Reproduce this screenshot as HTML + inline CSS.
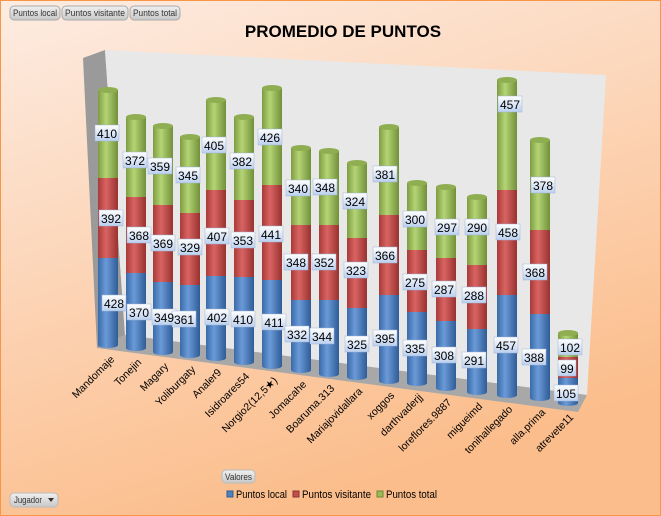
<!DOCTYPE html>
<html><head><meta charset="utf-8"><style>
body{margin:0}
svg{display:block;font-family:"Liberation Sans",sans-serif}
.l text{font-size:12px}
</style></head><body>
<svg width="661" height="516" viewBox="0 0 661 516" xmlns="http://www.w3.org/2000/svg">
<defs>
<linearGradient id="bg" x1="0" y1="0" x2="0.4" y2="1"><stop offset="0" stop-color="#fdece2"/><stop offset="1" stop-color="#fbbd8b"/></linearGradient>
<linearGradient id="B" x1="0" x2="1"><stop offset="0" stop-color="#3a6aa8"/><stop offset="0.4" stop-color="#6a9ad8"/><stop offset="1" stop-color="#2f5c96"/></linearGradient>
<linearGradient id="R" x1="0" x2="1"><stop offset="0" stop-color="#a83a38"/><stop offset="0.4" stop-color="#d96462"/><stop offset="1" stop-color="#983230"/></linearGradient>
<linearGradient id="G" x1="0" x2="1"><stop offset="0" stop-color="#7e9c42"/><stop offset="0.4" stop-color="#b4d474"/><stop offset="1" stop-color="#71903a"/></linearGradient>
<linearGradient id="lb" x1="0" y1="0" x2="0" y2="1"><stop offset="0" stop-color="#ffffff"/><stop offset="1" stop-color="#bcd0ee"/></linearGradient>
<linearGradient id="btn" x1="0" y1="0" x2="0" y2="1"><stop offset="0" stop-color="#f0f0f0"/><stop offset="1" stop-color="#c8c8c8"/></linearGradient>
</defs>
<rect x="0.5" y="0.5" width="660" height="515" fill="url(#bg)" stroke="#f79646"/>
<text x="343" y="37" font-size="17" font-weight="bold" text-anchor="middle" fill="#000">PROMEDIO DE PUNTOS</text>
<g font-size="9" fill="#333">
<rect x="10" y="6" width="50" height="14" rx="4" fill="url(#btn)" stroke="#aaa"/><text x="13" y="16" textLength="44" lengthAdjust="spacingAndGlyphs">Puntos local</text>
<rect x="62" y="6" width="66" height="14" rx="4" fill="url(#btn)" stroke="#aaa"/><text x="65" y="16" textLength="60" lengthAdjust="spacingAndGlyphs">Puntos visitante</text>
<rect x="130" y="6" width="50" height="14" rx="4" fill="url(#btn)" stroke="#aaa"/><text x="133" y="16" textLength="44" lengthAdjust="spacingAndGlyphs">Puntos total</text>
<rect x="222" y="470" width="33" height="13" rx="4" fill="url(#btn)" stroke="#bbb"/><text x="225" y="480" textLength="27" lengthAdjust="spacingAndGlyphs">Valores</text>
<rect x="10" y="493" width="48" height="14" rx="4" fill="url(#btn)" stroke="#bbb"/><text x="14" y="503" textLength="28" lengthAdjust="spacingAndGlyphs">Jugador</text><path d="M48 498h6l-3 4z" fill="#333"/>
</g>
<g font-size="11" fill="#000">
<rect x="227" y="491" width="6" height="6" fill="#4f81bd" stroke="#2f5c96"/><text x="236" y="498" textLength="51" lengthAdjust="spacingAndGlyphs">Puntos local</text>
<rect x="293" y="491" width="6" height="6" fill="#c0504d" stroke="#8a3432"/><text x="302" y="498" textLength="69" lengthAdjust="spacingAndGlyphs">Puntos visitante</text>
<rect x="377" y="491" width="6" height="6" fill="#9bbb59" stroke="#6e8a38"/><text x="386" y="498" textLength="51" lengthAdjust="spacingAndGlyphs">Puntos total</text>
</g>
<polygon points="83,58 105,50 125,335 97,348" fill="#9a9a9a"/>
<polygon points="105,50 606,75 587,395 125,335" fill="#e8e8e8"/>
<polygon points="97,348 125,335 587,395 578,412" fill="#a8a8a8"/>
<g>
<rect x="98" y="258" width="20" height="87" fill="url(#B)"/><ellipse cx="108" cy="345" rx="10" ry="3" fill="url(#B)"/><rect x="98" y="178" width="20" height="80" fill="url(#R)"/><rect x="98" y="90" width="20" height="88" fill="url(#G)"/><ellipse cx="108" cy="90" rx="10" ry="3" fill="#8fae52"/>
<rect x="126" y="273" width="20" height="75" fill="url(#B)"/><ellipse cx="136" cy="348" rx="10" ry="3" fill="url(#B)"/><rect x="126" y="197" width="20" height="76" fill="url(#R)"/><rect x="126" y="117" width="20" height="80" fill="url(#G)"/><ellipse cx="136" cy="117" rx="10" ry="3" fill="#8fae52"/>
<rect x="153" y="282" width="20" height="70" fill="url(#B)"/><ellipse cx="163" cy="352" rx="10" ry="3" fill="url(#B)"/><rect x="153" y="205" width="20" height="77" fill="url(#R)"/><rect x="153" y="126" width="20" height="79" fill="url(#G)"/><ellipse cx="163" cy="126" rx="10" ry="3" fill="#8fae52"/>
<rect x="180" y="285" width="20" height="70" fill="url(#B)"/><ellipse cx="190" cy="355" rx="10" ry="3" fill="url(#B)"/><rect x="180" y="213" width="20" height="72" fill="url(#R)"/><rect x="180" y="137" width="20" height="76" fill="url(#G)"/><ellipse cx="190" cy="137" rx="10" ry="3" fill="#8fae52"/>
<rect x="206" y="276" width="20" height="82" fill="url(#B)"/><ellipse cx="216" cy="358" rx="10" ry="3" fill="url(#B)"/><rect x="206" y="190" width="20" height="86" fill="url(#R)"/><rect x="206" y="100" width="20" height="90" fill="url(#G)"/><ellipse cx="216" cy="100" rx="10" ry="3" fill="#8fae52"/>
<rect x="234" y="277" width="20" height="85" fill="url(#B)"/><ellipse cx="244" cy="362" rx="10" ry="3" fill="url(#B)"/><rect x="234" y="200" width="20" height="77" fill="url(#R)"/><rect x="234" y="117" width="20" height="83" fill="url(#G)"/><ellipse cx="244" cy="117" rx="10" ry="3" fill="#8fae52"/>
<rect x="262" y="280" width="20" height="86" fill="url(#B)"/><ellipse cx="272" cy="366" rx="10" ry="3" fill="url(#B)"/><rect x="262" y="185" width="20" height="95" fill="url(#R)"/><rect x="262" y="88" width="20" height="97" fill="url(#G)"/><ellipse cx="272" cy="88" rx="10" ry="3" fill="#8fae52"/>
<rect x="291" y="300" width="20" height="70" fill="url(#B)"/><ellipse cx="301" cy="370" rx="10" ry="3" fill="url(#B)"/><rect x="291" y="225" width="20" height="75" fill="url(#R)"/><rect x="291" y="148" width="20" height="77" fill="url(#G)"/><ellipse cx="301" cy="148" rx="10" ry="3" fill="#8fae52"/>
<rect x="319" y="300" width="20" height="74" fill="url(#B)"/><ellipse cx="329" cy="374" rx="10" ry="3" fill="url(#B)"/><rect x="319" y="225" width="20" height="75" fill="url(#R)"/><rect x="319" y="151" width="20" height="74" fill="url(#G)"/><ellipse cx="329" cy="151" rx="10" ry="3" fill="#8fae52"/>
<rect x="347" y="308" width="20" height="69" fill="url(#B)"/><ellipse cx="357" cy="377" rx="10" ry="3" fill="url(#B)"/><rect x="347" y="238" width="20" height="70" fill="url(#R)"/><rect x="347" y="163" width="20" height="75" fill="url(#G)"/><ellipse cx="357" cy="163" rx="10" ry="3" fill="#8fae52"/>
<rect x="379" y="295" width="20" height="86" fill="url(#B)"/><ellipse cx="389" cy="381" rx="10" ry="3" fill="url(#B)"/><rect x="379" y="215" width="20" height="80" fill="url(#R)"/><rect x="379" y="127" width="20" height="88" fill="url(#G)"/><ellipse cx="389" cy="127" rx="10" ry="3" fill="#8fae52"/>
<rect x="407" y="312" width="20" height="71" fill="url(#B)"/><ellipse cx="417" cy="383" rx="10" ry="3" fill="url(#B)"/><rect x="407" y="250" width="20" height="62" fill="url(#R)"/><rect x="407" y="183" width="20" height="67" fill="url(#G)"/><ellipse cx="417" cy="183" rx="10" ry="3" fill="#8fae52"/>
<rect x="436" y="321" width="20" height="67" fill="url(#B)"/><ellipse cx="446" cy="388" rx="10" ry="3" fill="url(#B)"/><rect x="436" y="258" width="20" height="63" fill="url(#R)"/><rect x="436" y="187" width="20" height="71" fill="url(#G)"/><ellipse cx="446" cy="187" rx="10" ry="3" fill="#8fae52"/>
<rect x="467" y="329" width="20" height="63" fill="url(#B)"/><ellipse cx="477" cy="392" rx="10" ry="3" fill="url(#B)"/><rect x="467" y="265" width="20" height="64" fill="url(#R)"/><rect x="467" y="197" width="20" height="68" fill="url(#G)"/><ellipse cx="477" cy="197" rx="10" ry="3" fill="#8fae52"/>
<rect x="497" y="295" width="20" height="100" fill="url(#B)"/><ellipse cx="507" cy="395" rx="10" ry="3" fill="url(#B)"/><rect x="497" y="190" width="20" height="105" fill="url(#R)"/><rect x="497" y="80" width="20" height="110" fill="url(#G)"/><ellipse cx="507" cy="80" rx="10" ry="3" fill="#8fae52"/>
<rect x="530" y="314" width="20" height="84" fill="url(#B)"/><ellipse cx="540" cy="398" rx="10" ry="3" fill="url(#B)"/><rect x="530" y="230" width="20" height="84" fill="url(#R)"/><rect x="530" y="140" width="20" height="90" fill="url(#G)"/><ellipse cx="540" cy="140" rx="10" ry="3" fill="#8fae52"/>
<rect x="558" y="378" width="20" height="25" fill="url(#B)"/><ellipse cx="568" cy="403" rx="10" ry="3" fill="url(#B)"/><rect x="558" y="357" width="20" height="21" fill="url(#R)"/><rect x="558" y="333" width="20" height="24" fill="url(#G)"/><ellipse cx="568" cy="333" rx="10" ry="3" fill="#8fae52"/>
</g>
<g class="l" text-anchor="middle" fill="#000">
<g fill="url(#lb)" stroke="#9db3d8" stroke-width="0.5">
<rect x="95" y="125" width="24" height="16"/><rect x="123" y="152" width="24" height="16"/><rect x="148" y="158" width="24" height="16"/><rect x="176" y="167" width="24" height="16"/><rect x="202" y="137" width="24" height="16"/><rect x="230" y="153" width="24" height="16"/><rect x="258" y="129" width="24" height="16"/><rect x="286" y="180" width="24" height="16"/><rect x="313" y="179" width="24" height="16"/><rect x="343" y="193" width="24" height="16"/><rect x="373" y="166" width="24" height="16"/><rect x="403" y="211" width="24" height="16"/><rect x="435" y="219" width="24" height="16"/><rect x="465" y="219" width="24" height="16"/><rect x="498" y="96" width="24" height="16"/><rect x="531" y="177" width="24" height="16"/><rect x="558" y="339" width="24" height="16"/>
<rect x="99" y="210" width="24" height="16"/><rect x="127" y="227" width="24" height="16"/><rect x="151" y="235" width="24" height="16"/><rect x="178" y="239" width="24" height="16"/><rect x="205" y="228" width="24" height="16"/><rect x="231" y="232" width="24" height="16"/><rect x="259" y="226" width="24" height="16"/><rect x="284" y="254" width="24" height="16"/><rect x="312" y="254" width="24" height="16"/><rect x="344" y="262" width="24" height="16"/><rect x="373" y="247" width="24" height="16"/><rect x="403" y="274" width="24" height="16"/><rect x="432" y="281" width="24" height="16"/><rect x="462" y="287" width="24" height="16"/><rect x="496" y="224" width="24" height="16"/><rect x="523" y="264" width="24" height="16"/><rect x="558" y="360" width="18" height="16"/>
<rect x="102" y="295" width="24" height="16"/><rect x="127" y="304" width="24" height="16"/><rect x="152" y="309" width="24" height="16"/><rect x="172" y="311" width="24" height="16"/><rect x="205" y="309" width="24" height="16"/><rect x="231" y="311" width="24" height="16"/><rect x="262" y="314" width="24" height="16"/><rect x="285" y="326" width="24" height="16"/><rect x="310" y="328" width="24" height="16"/><rect x="345" y="336" width="24" height="16"/><rect x="373" y="330" width="24" height="16"/><rect x="403" y="340" width="24" height="16"/><rect x="432" y="347" width="24" height="16"/><rect x="462" y="352" width="24" height="16"/><rect x="494" y="337" width="24" height="16"/><rect x="522" y="349" width="24" height="16"/><rect x="554" y="385" width="24" height="16"/>
</g>
<text x="107" y="138">410</text><text x="135" y="165">372</text><text x="160" y="171">359</text><text x="188" y="180">345</text><text x="214" y="150">405</text><text x="242" y="166">382</text><text x="270" y="142">426</text><text x="298" y="193">340</text><text x="325" y="192">348</text><text x="355" y="206">324</text><text x="385" y="179">381</text><text x="415" y="224">300</text><text x="447" y="232">297</text><text x="477" y="232">290</text><text x="510" y="109">457</text><text x="543" y="190">378</text><text x="570" y="352">102</text>
<text x="111" y="223">392</text><text x="139" y="240">368</text><text x="163" y="248">369</text><text x="190" y="252">329</text><text x="217" y="241">407</text><text x="243" y="245">353</text><text x="271" y="239">441</text><text x="296" y="267">348</text><text x="324" y="267">352</text><text x="356" y="275">323</text><text x="385" y="260">366</text><text x="415" y="287">275</text><text x="444" y="294">287</text><text x="474" y="300">288</text><text x="508" y="237">458</text><text x="535" y="277">368</text><text x="567" y="373">99</text>
<text x="114" y="308">428</text><text x="139" y="317">370</text><text x="164" y="322">349</text><text x="184" y="324">361</text><text x="217" y="322">402</text><text x="243" y="324">410</text><text x="274" y="327">411</text><text x="297" y="339">332</text><text x="322" y="341">344</text><text x="357" y="349">325</text><text x="385" y="343">395</text><text x="415" y="353">335</text><text x="444" y="360">308</text><text x="474" y="365">291</text><text x="506" y="350">457</text><text x="534" y="362">388</text><text x="566" y="398">105</text>
</g>
<g font-size="10.5" fill="#000" text-anchor="end">
<text transform="translate(115,360) rotate(-45)">Mandomaje</text>
<text transform="translate(142,363) rotate(-45)">Tonejin</text>
<text transform="translate(169,367) rotate(-45)">Magary</text>
<text transform="translate(196,370) rotate(-45)">Yoliburgaty</text>
<text transform="translate(222,373) rotate(-45)">Analer9</text>
<text transform="translate(250,377) rotate(-45)">Isidroares54</text>
<text transform="translate(278,381) rotate(-45)">Norgio2(12,5★)</text>
<text transform="translate(307,385) rotate(-45)">Jomacahe</text>
<text transform="translate(335,389) rotate(-45)">Boaruma.313</text>
<text transform="translate(363,392) rotate(-45)">Mariajovidallara</text>
<text transform="translate(395,396) rotate(-45)">xoggos</text>
<text transform="translate(423,398) rotate(-45)">darthvaderjj</text>
<text transform="translate(452,403) rotate(-45)">loreflores.9887</text>
<text transform="translate(483,407) rotate(-45)">migueimd</text>
<text transform="translate(513,410) rotate(-45)">tonihallegado</text>
<text transform="translate(546,413) rotate(-45)">alla.prima</text>
<text transform="translate(574,418) rotate(-45)">atrevete11</text>
</g>
</svg>
</body></html>
